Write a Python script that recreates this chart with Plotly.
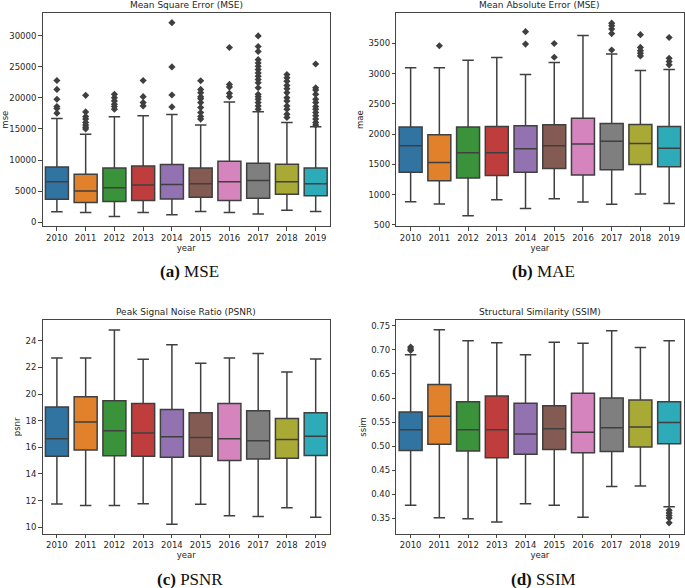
import plotly.graph_objects as go

YEARS = [2010, 2011, 2012, 2013, 2014, 2015, 2016, 2017, 2018, 2019]
COLORS = ['#3274a1', '#e1812c', '#3a923a', '#c03d3e', '#9372b2',
          '#845b53', '#d684bd', '#7f7f7f', '#a9aa35', '#2eabb8']

# --- MSE (box stats)
mse_q1 = [3670, 3140, 3300, 3460, 3720, 3990, 3460, 3830, 4470, 4250]
mse_med = [6490, 5000, 5530, 5960, 6060, 6170, 6490, 6700, 6490, 6170]
mse_q3 = [8880, 7710, 8720, 9040, 9260, 8720, 9790, 9470, 9310, 8720]
mse_lo = [1650, 1540, 900, 1540, 1170, 1700, 1540, 1280, 1920, 1700]
mse_hi = [16700, 14150, 16970, 17130, 17340, 15640, 19360, 17770, 16060, 15370]
mse_out = [
    [22820, 21380, 19790, 18620, 18300, 17550],
    [20430, 17750, 17000, 16600, 16060, 15640, 15260, 15000],
    [20580, 20050, 19520, 18990, 18620, 18190],
    [22820, 20210, 19260, 18720],
    [32130, 25000, 20480, 18560],
    [22770, 21380, 20850, 20210, 19890, 19260, 18460, 17660, 17020, 16600],
    [28140, 22180, 21750, 20740, 20210],
    [30000, 28300, 27500, 26170, 25640, 25110, 24570, 24040, 23510, 22980,
     22450, 21650, 20580, 20210, 19790, 19260, 18720, 18190],
    [23780, 23250, 22710, 22020, 21490, 20850, 20050, 19520, 18720, 18190,
     17390, 16860],
    [25480, 21650, 21280, 20580, 19790, 19260, 18620, 18190, 17660, 17130,
     16600, 16060, 15640],
]

# --- MAE
mae_q1 = [1373, 1232, 1276, 1319, 1373, 1433, 1325, 1411, 1498, 1460]
mae_med = [1807, 1531, 1694, 1694, 1759, 1807, 1840, 1883, 1845, 1769]
mae_q3 = [2117, 1992, 2117, 2128, 2138, 2155, 2263, 2176, 2160, 2128]
mae_lo = [885, 847, 652, 918, 771, 934, 880, 842, 1010, 853]
mae_hi = [3099, 3099, 3223, 3267, 2985, 3185, 3630, 3326, 3055, 3071]
mae_out = [
    [], [3462], [], [], [3695, 3489], [3500, 3272], [],
    [3836, 3793, 3739, 3663, 3392],
    [3646, 3435, 3381, 3337, 3294],
    [3598, 3256, 3202, 3147],
]

# --- PSNR
psnr_q1 = [15.33, 15.80, 15.36, 15.33, 15.26, 15.33, 15.01, 15.13, 15.18, 15.38]
psnr_med = [16.65, 17.90, 17.25, 17.08, 16.80, 16.73, 16.65, 16.50, 16.58, 16.83]
psnr_q3 = [19.02, 19.79, 19.49, 19.29, 18.84, 18.60, 19.29, 18.74, 18.17, 18.60]
psnr_lo = [11.74, 11.64, 11.64, 11.77, 10.22, 11.72, 10.87, 10.80, 11.47, 10.75]
psnr_hi = [22.71, 22.71, 24.80, 22.61, 23.70, 22.31, 22.71, 23.05, 21.66, 22.63]
psnr_out = [[] for _ in YEARS]

# --- SSIM
ssim_q1 = [0.491, 0.504, 0.490, 0.476, 0.483, 0.493, 0.486, 0.489, 0.498, 0.505]
ssim_med = [0.534, 0.562, 0.534, 0.534, 0.525, 0.536, 0.529, 0.538, 0.540, 0.549]
ssim_q3 = [0.571, 0.628, 0.592, 0.604, 0.589, 0.584, 0.610, 0.600, 0.596, 0.592]
ssim_lo = [0.377, 0.351, 0.349, 0.342, 0.380, 0.377, 0.352, 0.416, 0.417, 0.374]
ssim_hi = [0.690, 0.742, 0.719, 0.715, 0.690, 0.716, 0.714, 0.740, 0.705, 0.719]
ssim_out = [[0.706, 0.702, 0.699], [], [], [], [], [], [], [], [],
            [0.3665, 0.361, 0.3555, 0.3507, 0.3404]]

W, H = 685, 588
LINE = '#3f3f3f'
TXT = '#262626'
FONT = 'DejaVu Sans'

panels = [
    # (axis suffix, title, ylabel, stats, range, ticks, fmt, px box l,r,t,b, caption)
    ('', 'Mean Square Error (MSE)', 'mse',
     (mse_q1, mse_med, mse_q3, mse_lo, mse_hi, mse_out),
     [-660, 33660], list(range(0, 30001, 5000)), 'd',
     (40.7, 329.5, 13.3, 227.7), ('(a)', 'MSE')),
    ('2', 'Mean Absolute Error (MSE)', 'mae',
     (mae_q1, mae_med, mae_q3, mae_lo, mae_hi, mae_out),
     [480, 4000], list(range(500, 3501, 500)), 'd',
     (396, 684.5, 13.3, 227.7), ('(b)', 'MAE')),
    ('3', 'Peak Signal Noise Ratio (PSNR)', 'psnr',
     (psnr_q1, psnr_med, psnr_q3, psnr_lo, psnr_hi, psnr_out),
     [9.52, 25.55], list(range(10, 25, 2)), 'd',
     (40.7, 329.5, 322.3, 537.3), ('(c)', 'PSNR')),
    ('4', 'Structural Similarity (SSIM)', 'ssim',
     (ssim_q1, ssim_med, ssim_q3, ssim_lo, ssim_hi, ssim_out),
     [0.318, 0.762], [0.35, 0.40, 0.45, 0.50, 0.55, 0.60, 0.65, 0.70, 0.75], '.2f',
     (396, 684.5, 322.3, 537.3), ('(d)', 'SSIM')),
]

fig = go.Figure()
annotations = []
layout = {}

for suf, title, ylab, stats, yr, yticks, fmt, box, cap in panels:
    q1, med, q3, lo, hi, outs = stats
    xa, ya = 'x' + suf, 'y' + suf
    for i, yr_ in enumerate(YEARS):
        fig.add_trace(go.Box(
            x=[i], q1=[q1[i]], median=[med[i]], q3=[q3[i]],
            lowerfence=[lo[i]], upperfence=[hi[i]],
            width=0.8, whiskerwidth=0.5, fillcolor=COLORS[i],
            line=dict(color=LINE, width=1.5), boxpoints=False,
            showlegend=False, hoverinfo='skip', xaxis=xa, yaxis=ya))
        if outs[i]:
            fig.add_trace(go.Scatter(
                x=[i] * len(outs[i]), y=outs[i], mode='markers',
                marker=dict(symbol='diamond', size=5.5, color=LINE),
                showlegend=False, hoverinfo='skip', xaxis=xa, yaxis=ya))

    l, r, t, b = box
    common = dict(showline=True, linecolor='#444', linewidth=1, mirror=True,
                  ticks='outside', ticklen=3.5, tickcolor='#444', tickwidth=1,
                  showgrid=False, zeroline=False,
                  tickfont=dict(family=FONT, size=8.5, color=TXT))
    layout['xaxis' + suf] = dict(
        common, domain=[l / W, r / W], anchor=ya, range=[-0.5, 9.5],
        tickvals=list(range(len(YEARS))), ticktext=[str(y) for y in YEARS],
        title=dict(text='year', font=dict(family=FONT, size=8.5, color=TXT),
                   standoff=2))
    layout['yaxis' + suf] = dict(
        common, domain=[1 - b / H, 1 - t / H], anchor=xa, range=yr,
        tickvals=yticks, tickformat=fmt,
        title=dict(text=ylab, font=dict(family=FONT, size=8.5, color=TXT),
                   standoff=3))
    annotations.append(dict(
        text=title, x=(l + r) / 2 / W, y=1 - (t - 8) / H, xref='paper',
        yref='paper', showarrow=False, xanchor='center', yanchor='middle',
        font=dict(family=FONT, size=9, color=TXT)))
    annotations.append(dict(
        text='<b>%s</b> %s' % cap, x=(l + r) / 2 / W + 0.005,
        y=1 - (b + 46) / H, xref='paper', yref='paper', showarrow=False,
        xanchor='center', yanchor='middle',
        font=dict(family='Liberation Serif', size=17, color='#111')))

fig.update_layout(
    width=W, height=H, margin=dict(l=0, r=0, t=0, b=0),
    plot_bgcolor='white', paper_bgcolor='white',
    annotations=annotations, **layout)

# page body has a default margin; drop it so the figure fills the window
fig.write_html("out.html", config={'displayModeBar': False},
               post_script="document.body.style.margin='0';")
